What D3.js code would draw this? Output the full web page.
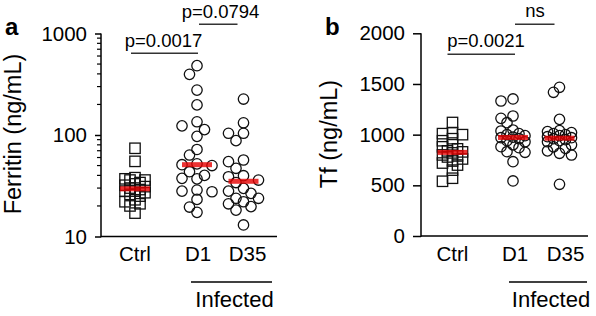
<!DOCTYPE html>
<html><head><meta charset="utf-8">
<script src="https://cdn.jsdelivr.net/npm/d3@7"></script>
<style>html,body{margin:0;padding:0;background:#fff;}svg{display:block;}</style>
</head><body>
<script>
// ---------- DATA ----------
const categories = ["Ctrl", "D1", "D35"];
const groupLabel = "Infected";

// Panel a: Ferritin (ng/mL), log scale
const ferritinCtrl = [74, 55, 38, 37, 36, 36, 34, 33, 32, 31, 30, 29, 28, 28, 27, 26, 25, 23, 22, 21, 20, 17];
const ferritinD1   = [482, 396, 277, 198, 135, 123, 113, 97, 72, 63.5, 52, 51, 50, 43.5, 40, 37.4, 37, 28.7, 28, 27.6, 23.2, 19.5, 17.3];
const ferritinD35  = [226, 132, 104, 104, 88, 56.7, 54.6, 47, 39.7, 38.8, 36, 34, 29.8, 28, 26.6, 23.8, 23.8, 22, 21, 19.7, 18.2, 13];
const ferritinTicks = [10, 100, 1000];
const ferritinTitle = "Ferritin (ng/mL)";
const ferritinP = ["p=0.0017", "p=0.0794"];

// Panel b: Tf (ng/mL), linear scale
const tfCtrl = [1120, 1020, 1010, 1000, 960, 940, 900, 880, 860, 840, 830, 820, 800, 790, 780, 760, 740, 720, 700, 650, 570, 540];
const tfD1   = [1352, 1332, 1184, 1161, 1118, 1046, 1036, 1010, 1000, 990, 975, 970, 960, 940, 930, 900, 881, 871, 832, 826, 733, 543];
const tfD35  = [1467, 1418, 1151, 1040, 1030, 1020, 1010, 1000, 990, 980, 970, 960, 950, 940, 930, 900, 880, 865, 840, 816, 799, 510];
const tfTicks = [0, 500, 1000, 1500, 2000];
const tfTitle = "Tf (ng/mL)";
const tfP = ["p=0.0021", "ns"];

// ---------- DRAWING ----------
const W = 596, H = 316;
const FONT = "'Liberation Sans', Arial, Helvetica, sans-serif";
const svg = d3.select("body").append("svg").attr("width", W).attr("height", H)
  .style("font-family", FONT);

function txt(g, x, y, s, size, anchor, weight, rot) {
  const t = g.append("text").attr("x", x).attr("y", y).text(s)
    .attr("font-size", size).attr("text-anchor", anchor || "middle")
    .attr("font-weight", weight || "normal").attr("fill", "#000");
  if (rot) t.attr("transform", `rotate(${rot},${x},${y})`);
  return t;
}

// greedy beeswarm: returns x offsets
function swarm(ys, step, minDist, maxSteps) {
  const idx = ys.map((y, i) => i).sort((a, b) => ys[a] - ys[b]);
  const placed = [];
  const off = new Array(ys.length).fill(0);
  const cands = [0];
  for (let k = 1; k <= maxSteps; k++) { cands.push(-k * step, k * step); }
  for (const i of idx) {
    let best = null, bestScore = -1;
    for (const c of cands) {
      let md = Infinity;
      for (const p of placed) {
        const d = Math.hypot(p.x - c, p.y - ys[i]);
        if (d < md) md = d;
      }
      if (md >= minDist) { best = c; bestScore = Infinity; break; }
      if (md > bestScore) { bestScore = md; best = c; }
    }
    off[i] = best;
    placed.push({x: best, y: ys[i]});
  }
  return off;
}

function panel(cfg) {
  const g = svg.append("g");
  const y = cfg.y;
  const x = d3.scaleOrdinal().domain(categories).range(cfg.xs);

  // y axis
  const ax = g.append("g").attr("transform", `translate(${cfg.axisX},0)`)
    .call(cfg.axis);
  ax.select(".domain").remove();
  ax.selectAll(".tick line").attr("stroke", "#000").attr("stroke-width", 1.5);
  ax.selectAll(".tick text").attr("font-size", 20.5).attr("font-family", FONT).attr("fill", "#000");
  g.append("line").attr("x1", cfg.axisX).attr("x2", cfg.axisX)
    .attr("y1", y.range()[1]).attr("y2", y.range()[0] + 0.75)
    .attr("stroke", "#000").attr("stroke-width", 1.5);
  // x axis baseline
  g.append("line").attr("x1", cfg.axisX).attr("x2", cfg.xEnd)
    .attr("y1", y.range()[0]).attr("y2", y.range()[0])
    .attr("stroke", "#000").attr("stroke-width", 1.5);

  // minor ticks for log
  if (cfg.minor) {
    g.selectAll(".minor").data(cfg.minor).enter().append("line")
      .attr("x1", cfg.axisX - 4).attr("x2", cfg.axisX)
      .attr("y1", d => y(d)).attr("y2", d => y(d))
      .attr("stroke", "#000").attr("stroke-width", 1.2);
  }

  // category labels
  categories.forEach((c, i) => txt(g, x(c) + cfg.labelShift[i], 261, c, 20.5));
  // Infected group
  g.append("line").attr("x1", cfg.infLine[0]).attr("x2", cfg.infLine[1])
    .attr("y1", 282).attr("y2", 282).attr("stroke", "#000").attr("stroke-width", 1.5);
  txt(g, (cfg.infLine[0] + cfg.infLine[1]) / 2 + 3, 307, groupLabel, 22);

  // y title
  txt(g, cfg.titleX, 134, cfg.title, 23.5, "middle", "normal", -90);
  // panel letter
  txt(g, cfg.letterX, 35, cfg.letter, 24, "start", "bold");

  // points
  cfg.series.forEach((vals, si) => {
    const cat = categories[si];
    const ys = vals.map(v => y(v));
    const sq = si === 0;
    const offs = swarm(ys, sq ? cfg.sqStep : cfg.step, sq ? cfg.sqDist : cfg.minDist, cfg.maxSteps);
    const cx = x(cat);
    if (sq) {
      g.selectAll(null).data(vals).enter().append("rect")
        .attr("x", (d, i) => cx + offs[i] - 5.2).attr("y", (d, i) => ys[i] - 5.2)
        .attr("width", 10.4).attr("height", 10.4)
        .attr("fill", "none").attr("stroke", "#111").attr("stroke-width", 1.3);
    } else {
      g.selectAll(null).data(vals).enter().append("circle")
        .attr("cx", (d, i) => cx + offs[i]).attr("cy", (d, i) => ys[i]).attr("r", 5.2)
        .attr("fill", "none").attr("stroke", "#111").attr("stroke-width", 1.3);
    }
    const med = d3.median(vals);
    g.append("rect").attr("x", cx - 15).attr("y", y(med) - 2.5)
      .attr("width", 30).attr("height", 5).attr("fill", "#e60000").attr("opacity", 0.8);
  });

  // significance brackets
  cfg.brackets.forEach(b => {
    g.append("line").attr("x1", b.x1).attr("x2", b.x2).attr("y1", b.ly).attr("y2", b.ly)
      .attr("stroke", "#333").attr("stroke-width", 1.5);
    txt(g, b.tx, b.ty, b.label, 18.5);
  });
}

// Panel a
{
  const y = d3.scaleLog().domain([10, 1000]).range([236.5, 33.5]);
  const minor = [];
  [10, 100].forEach(base => { for (let k = 2; k <= 9; k++) minor.push(base * k); });
  const xs = [135, 197, 243.5];
  panel({
    y, xs, axisX: 101, xEnd: 277, labelShift: [0, 1, 4],
    axis: d3.axisLeft(y).tickValues(ferritinTicks).tickFormat(d3.format("d")).tickSize(6).tickPadding(8),
    minor, infLine: [191, 272], title: ferritinTitle, titleX: 21, letter: "a", letterX: 5,
    series: [ferritinCtrl, ferritinD1, ferritinD35], step: 7.5, minDist: 9, maxSteps: 2,
    sqStep: 5, sqDist: 6,
    brackets: [
      {x1: xs[0] - 4, x2: xs[1] + 1, ly: 53.3, tx: 163.5, ty: 46.7, label: ferritinP[0]},
      {x1: xs[1] + 2, x2: xs[2] - 6, ly: 24.3, tx: 220.5, ty: 18.3, label: ferritinP[1]}
    ]
  });
}
// Panel b
{
  const y = d3.scaleLinear().domain([0, 2000]).range([236, 33.3]);
  const xs = [452.5, 513, 559.5];
  panel({
    y, xs, axisX: 421, xEnd: 588, labelShift: [0, 2, 6],
    axis: d3.axisLeft(y).tickValues(tfTicks).tickFormat(d3.format("d")).tickSize(8).tickPadding(8),
    minor: null, infLine: [509, 587], title: tfTitle, titleX: 337, letter: "b", letterX: 325,
    series: [tfCtrl, tfD1, tfD35], step: 6, minDist: 7, maxSteps: 2,
    sqStep: 5, sqDist: 6,
    brackets: [
      {x1: xs[0] - 5, x2: xs[1] + 2, ly: 54.3, tx: 486, ty: 46.7, label: tfP[0]},
      {x1: xs[1] + 2, x2: xs[2] - 5, ly: 24.3, tx: 535, ty: 17.3, label: tfP[1]}
    ]
  });
}
</script>
</body></html>
